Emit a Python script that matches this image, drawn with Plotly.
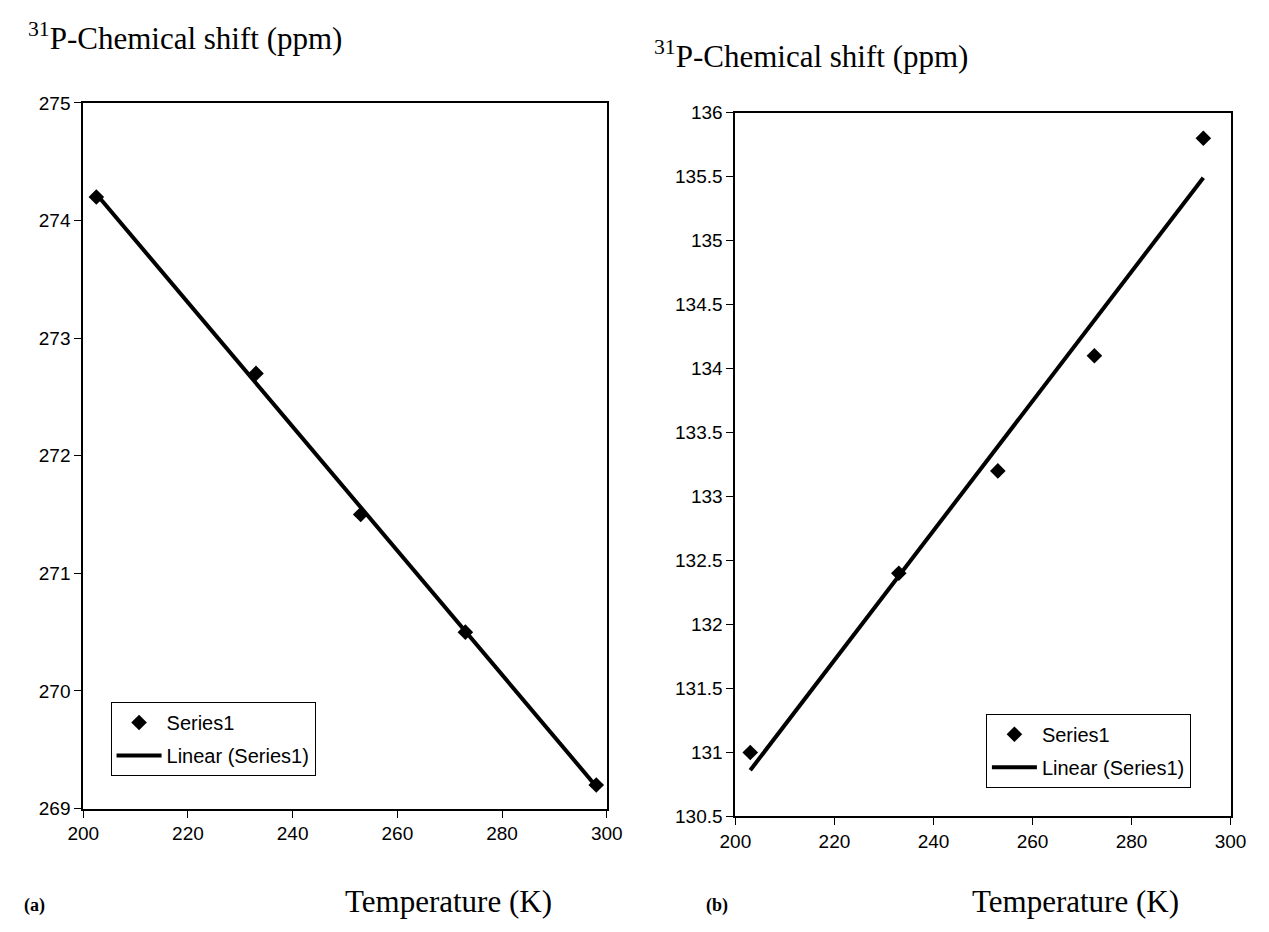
import numpy as np
import plotly.graph_objects as go

W, H = 1269, 932

# Panel (a)
temp_a = [202.5, 233, 253, 273, 298]
shift_a = [274.2, 272.7, 271.5, 270.5, 269.2]
# Panel (b)
temp_b = [203, 233, 253, 272.5, 294.5]
shift_b = [131.0, 132.4, 133.2, 134.1, 135.8]

x_ticks = [200, 220, 240, 260, 280, 300]
y_ticks_a = [269, 270, 271, 272, 273, 274, 275]
y_ticks_b = [130.5, 131, 131.5, 132, 132.5, 133, 133.5, 134, 134.5, 135, 135.5, 136]


def trend(x, y):
    k, b = np.polyfit(x, y, 1)
    xs = [min(x), max(x)]
    return xs, [k * v + b for v in xs]


def px(v):
    return v / W


def py(v):
    return 1 - v / H


fig = go.Figure()

ta_x, ta_y = trend(temp_a, shift_a)
tb_x, tb_y = trend(temp_b, shift_b)

mk = dict(symbol="diamond", size=12, color="black")
ln = dict(color="black", width=4)

fig.add_trace(go.Scatter(x=temp_a, y=shift_a, mode="markers", name="Series1", marker=mk,
                         xaxis="x", yaxis="y", legend="legend", legendgroup="a1"))
fig.add_trace(go.Scatter(x=ta_x, y=ta_y, mode="lines", name="Linear (Series1)", line=ln,
                         xaxis="x", yaxis="y", legend="legend", legendgroup="a2"))
fig.add_trace(go.Scatter(x=temp_b, y=shift_b, mode="markers", name="Series1", marker=mk,
                         xaxis="x2", yaxis="y2", legend="legend2", legendgroup="b1"))
fig.add_trace(go.Scatter(x=tb_x, y=tb_y, mode="lines", name="Linear (Series1)", line=ln,
                         xaxis="x2", yaxis="y2", legend="legend2", legendgroup="b2"))

sans = "Liberation Sans, Arial, sans-serif"
tickfont = dict(family=sans, size=19, color="black")
axis_common = dict(showgrid=False, zeroline=False, showline=True, linecolor="black",
                   linewidth=2, mirror=True, ticks="outside", ticklen=7,
                   tickcolor="black", tickwidth=1, tickfont=tickfont)

legend_common = dict(xanchor="left", yanchor="top", bgcolor="white",
                     bordercolor="black", borderwidth=1,
                     font=dict(family=sans, size=20, color="black"),
                     traceorder="grouped", tracegroupgap=4, itemwidth=45)

fig.update_layout(
    width=W, height=H,
    margin=dict(l=0, r=0, t=0, b=0),
    paper_bgcolor="white", plot_bgcolor="white",
    xaxis=dict(domain=[px(69), px(606)], range=[200, 300], tickvals=x_ticks,
               anchor="y", **axis_common),
    yaxis=dict(domain=[py(817), py(95)], range=[269, 275], tickvals=y_ticks_a,
               anchor="x", **axis_common),
    xaxis2=dict(domain=[px(738), px(1246)], range=[200, 300], tickvals=x_ticks,
                anchor="y2", **axis_common),
    yaxis2=dict(domain=[py(825), py(105)], range=[130.5, 136], tickvals=y_ticks_b,
                anchor="x2", **axis_common),
    legend=dict(x=px(97), y=py(708), **legend_common),
    legend2=dict(x=px(995), y=py(720), **legend_common),
    showlegend=True,
)

serif = "Liberation Serif, Times New Roman, serif"
ann = [
    dict(text="<sup>31</sup>P-Chemical shift (ppm)", x=px(10), y=py(27), xanchor="left", yanchor="middle", size=31),
    dict(text="<sup>31</sup>P-Chemical shift (ppm)", x=px(652), y=py(46), xanchor="left", yanchor="middle", size=31),
    dict(text="Temperature (K)", x=px(444), y=py(912), xanchor="center", yanchor="middle", size=31),
    dict(text="Temperature (K)", x=px(1087), y=py(912), xanchor="center", yanchor="middle", size=31),
    dict(text="<b>(a)</b>", x=px(6), y=py(916), xanchor="left", yanchor="middle", size=18),
    dict(text="<b>(b)</b>", x=px(706), y=py(916), xanchor="left", yanchor="middle", size=18),
]
for a in ann:
    fig.add_annotation(text=a["text"], x=a["x"], y=a["y"], xref="paper", yref="paper",
                       xanchor=a["xanchor"], yanchor=a["yanchor"], showarrow=False,
                       font=dict(family=serif, size=a["size"], color="black"))

fig.write_html("out.html")
